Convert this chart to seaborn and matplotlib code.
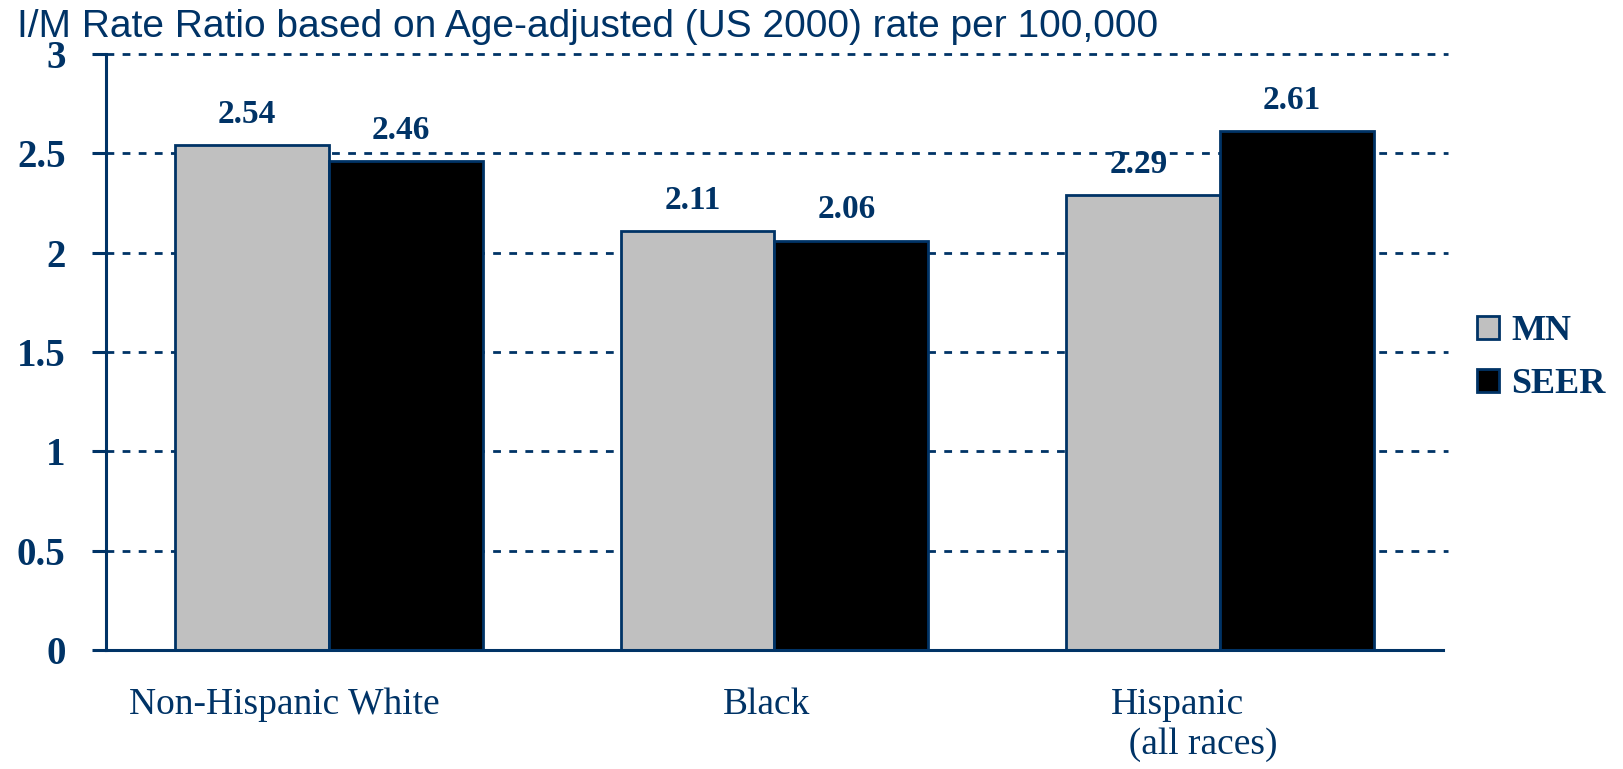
import pandas as pd
import numpy as np
import matplotlib
matplotlib.use('Agg')
import matplotlib.pyplot as plt
import matplotlib.transforms as mtransforms
import seaborn as sns

sns.set_style('white')

groups = ['Non-Hispanic White', 'Black', 'Hispanic\n  (all races)']
sources = ['MN', 'SEER']
mn_values = [2.54, 2.11, 2.29]
seer_values = [2.46, 2.06, 2.61]
yticks = [0, 0.5, 1, 1.5, 2, 2.5, 3]
ytick_labels = ['0', '0.5', '1', '1.5', '2', '2.5', '3']
title = 'I/M Rate Ratio based on Age-adjusted (US 2000) rate per 100,000'

navy = '#003366'
bar_colors = ['#C0C0C0', '#000000']

df = pd.DataFrame({
    'group': groups * 2,
    'source': ['MN'] * 3 + ['SEER'] * 3,
    'ratio': mn_values + seer_values,
})

fig = plt.figure(figsize=(16.23, 7.69), dpi=100)
ax = fig.add_axes([106 / 1623, 119 / 769, (1443 - 106) / 1623, (650 - 54) / 769])

sns.barplot(data=df, x='group', y='ratio', hue='source', order=groups, hue_order=sources,
            palette=bar_colors, width=0.69, edgecolor=navy, linewidth=2, saturation=1,
            errorbar=None, ax=ax, zorder=3)

for c in ax.containers:
    texts = ax.bar_label(c, fmt='%.2f', padding=11, color=navy, fontsize=24,
                         fontweight='bold', family='Liberation Serif')
    for t in texts:
        t.xyann = (-3.5, 11)

ax.set_xlim(-0.5, 2.5)
ax.set_ylim(0, 3)
ax.set_yticks(yticks)
ax.set_yticklabels(ytick_labels, fontsize=28, fontweight='bold', family='Liberation Serif', color=navy)
ax.set_xlabel('')
ax.set_ylabel('')

for y in yticks[1:]:
    ax.axhline(y, xmax=1.004, color=navy, lw=2, ls=(0, (2.8, 3)), zorder=1, clip_on=False)

for s in ['top', 'right']:
    ax.spines[s].set_visible(False)
for s in ['left', 'bottom']:
    ax.spines[s].set_color(navy)
    ax.spines[s].set_linewidth(2.2)
ax.spines['bottom'].set_zorder(4)

ax.tick_params(axis='y', direction='out', length=10, width=2.2, color=navy, pad=19, left=True)
ax.tick_params(axis='x', length=0, pad=27)

offsets = [-45, -8, -26]
for lab, off in zip(ax.get_xticklabels(), offsets):
    lab.set_fontsize(27)
    lab.set_family('Liberation Serif')
    lab.set_color(navy)
    lab.set_multialignment('left')
    lab.set_transform(lab.get_transform() + mtransforms.ScaledTranslation(off / 100, 0, fig.dpi_scale_trans))

ax.get_legend().remove()
handles, labels = ax.get_legend_handles_labels()
leg = ax.legend(handles, labels, loc='center left', bbox_to_anchor=(1477 / 1623, 1 - 358 / 769),
                bbox_transform=fig.transFigure, frameon=False, borderpad=0, borderaxespad=0,
                handlelength=0.6, handleheight=0.6, handletextpad=0.35, labelspacing=0.56,
                prop={'family': 'Liberation Serif', 'weight': 'bold', 'size': 26})
for h in leg.legend_handles:
    h.set_edgecolor(navy)
    h.set_linewidth(2)
for t in leg.get_texts():
    t.set_color(navy)

fig.text(17 / 1623, 1 - 37 / 769, title, fontsize=28, family='Liberation Sans', color=navy, va='baseline')

fig.savefig('out.png', dpi=100)
